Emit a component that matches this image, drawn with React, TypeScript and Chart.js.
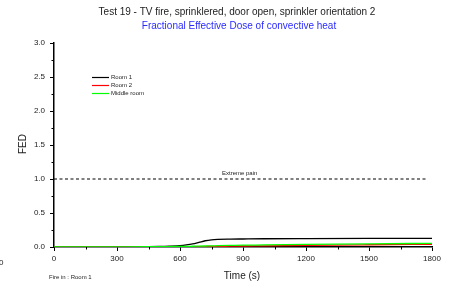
import React, { useEffect, useRef } from "react";
import { Chart, registerables } from "chart.js";

Chart.register(...registerables);

const times = [0, 150, 300, 450, 500, 550, 600, 630, 660, 690, 720, 750, 780, 840, 900, 1000, 1200, 1500, 1800];
const room1 = [0, 0.001, 0.002, 0.004, 0.007, 0.012, 0.02, 0.03, 0.045, 0.068, 0.092, 0.106, 0.112, 0.116, 0.118, 0.121, 0.124, 0.127, 0.128];
const room2 = [0, 0, 0, 0.001, 0.001, 0.002, 0.002, 0.003, 0.004, 0.005, 0.006, 0.008, 0.009, 0.012, 0.015, 0.018, 0.025, 0.033, 0.04];
const middle = [0, 0.002, 0.003, 0.004, 0.005, 0.006, 0.008, 0.009, 0.011, 0.013, 0.015, 0.017, 0.019, 0.023, 0.027, 0.03, 0.038, 0.047, 0.054];
const painTimes = [0, 1780];
const painLevel = [1, 1];
const seriesNames = ["Room 1", "Room 2", "Middle room"];
const seriesColors = ["#000000", "#ff0000", "#00ff00"];
const xTicks = [0, 300, 600, 900, 1200, 1500, 1800];
const yTicks = [0, 0.5, 1, 1.5, 2, 2.5, 3];
const titleText = "Test 19 - TV fire, sprinklered, door open, sprinkler orientation 2";
const subtitleText = "Fractional Effective Dose of convective heat";

const pts = (xs: number[], ys: number[]) => xs.map((x, i) => ({ x, y: ys[i] }));

const decor = {
  id: "decor",
  afterDraw(chart: any) {
    const ctx = chart.ctx;
    const xs = chart.scales.x;
    const ys = chart.scales.y;
    const area = chart.chartArea;
    ctx.save();
    // minor ticks
    ctx.strokeStyle = "#000";
    ctx.lineWidth = 1;
    for (let t = 150; t < 1800; t += 300) {
      const px = Math.round(xs.getPixelForValue(t)) + 0.5;
      ctx.beginPath();
      ctx.moveTo(px, area.bottom);
      ctx.lineTo(px, area.bottom + 2.5);
      ctx.stroke();
    }
    for (let v = 0.25; v < 3; v += 0.5) {
      const py = Math.round(ys.getPixelForValue(v)) + 0.5;
      ctx.beginPath();
      ctx.moveTo(area.left - 2.5, py);
      ctx.lineTo(area.left, py);
      ctx.stroke();
    }
    ctx.textBaseline = "middle";
    ctx.textAlign = "center";
    ctx.fillStyle = "#222";
    ctx.font = "10px Arial, 'Liberation Sans', sans-serif";
    ctx.fillText(titleText, 237, 12.5);
    ctx.fillStyle = "#2b2bff";
    ctx.fillText(subtitleText, 239, 26);
    ctx.fillStyle = "#222";
    ctx.fillText("Time (s)", 242, 276);
    ctx.save();
    ctx.translate(23, 144);
    ctx.rotate(-Math.PI / 2);
    ctx.fillText("FED", 0, 0);
    ctx.restore();
    ctx.textAlign = "left";
    ctx.font = "8px Arial, 'Liberation Sans', sans-serif";
    ctx.fillText("0", -1, 263);
    ctx.font = "6px Arial, 'Liberation Sans', sans-serif";
    ctx.fillText("Fire in : Room 1", 49, 277);
    ctx.fillText("Extreme pain", 222, 173.5);
    // legend
    const ly = [77.5, 85.5, 93.5];
    seriesNames.forEach((n, i) => {
      ctx.strokeStyle = seriesColors[i];
      ctx.lineWidth = 1.2;
      ctx.beginPath();
      ctx.moveTo(92, ly[i]);
      ctx.lineTo(109, ly[i]);
      ctx.stroke();
      ctx.fillStyle = "#222";
      ctx.fillText(n, 111, ly[i]);
    });
    ctx.restore();
  },
};

export default function App() {
  const ref = useRef<HTMLCanvasElement>(null);
  useEffect(() => {
    const chart = new Chart(ref.current!, {
      type: "line",
      data: {
        datasets: [
          {
            label: "Extreme pain",
            data: pts(painTimes, painLevel),
            borderColor: "#000",
            borderWidth: 1,
            borderDash: [3, 2.5],
            pointRadius: 0,
          },
          {
            label: seriesNames[2],
            data: pts(times, middle),
            borderColor: seriesColors[2],
            borderWidth: 1.3,
            pointRadius: 0,
            cubicInterpolationMode: "monotone",
          },
          {
            label: seriesNames[1],
            data: pts(times, room2),
            borderColor: seriesColors[1],
            borderWidth: 1.3,
            pointRadius: 0,
            cubicInterpolationMode: "monotone",
          },
          {
            label: seriesNames[0],
            data: pts(times, room1),
            borderColor: seriesColors[0],
            borderWidth: 1.3,
            pointRadius: 0,
            cubicInterpolationMode: "monotone",
          },
        ],
      },
      options: {
        animation: false,
        responsive: false,
        layout: { padding: { top: 43, left: 0, right: 21, bottom: 0 } },
        plugins: { legend: { display: false }, tooltip: { enabled: false }, title: { display: false } },
        scales: {
          x: {
            type: "linear",
            min: 0,
            max: 1800,
            afterBuildTicks: (s: any) => { s.ticks = xTicks.map((v) => ({ value: v })); },
            afterFit: (s: any) => { s.height = 42; },
            ticks: { color: "#222", font: { size: 8, family: "Arial, 'Liberation Sans', sans-serif" }, padding: 3, maxRotation: 0, callback: (v: any) => String(v) },
            grid: { display: true, drawOnChartArea: false, drawTicks: true, tickLength: 4, color: "#000" },
            border: { display: true, color: "#000", width: 1.5 },
          },
          y: {
            type: "linear",
            min: 0,
            max: 3,
            afterBuildTicks: (s: any) => { s.ticks = yTicks.map((v) => ({ value: v })); },
            afterFit: (s: any) => { s.width = 54; },
            ticks: { color: "#222", font: { size: 8, family: "Arial, 'Liberation Sans', sans-serif" }, padding: 5, callback: (v: any) => Number(v).toFixed(1) },
            grid: { display: true, drawOnChartArea: false, drawTicks: true, tickLength: 4, color: "#000" },
            border: { display: true, color: "#000", width: 1.5 },
          },
        },
      },
      plugins: [decor],
    });
    return () => chart.destroy();
  }, []);
  return (
    <div style={{ position: "fixed", left: 0, top: 0, width: 453, height: 289, background: "#fff" }}>
      <canvas ref={ref} width={453} height={289} />
    </div>
  );
}
